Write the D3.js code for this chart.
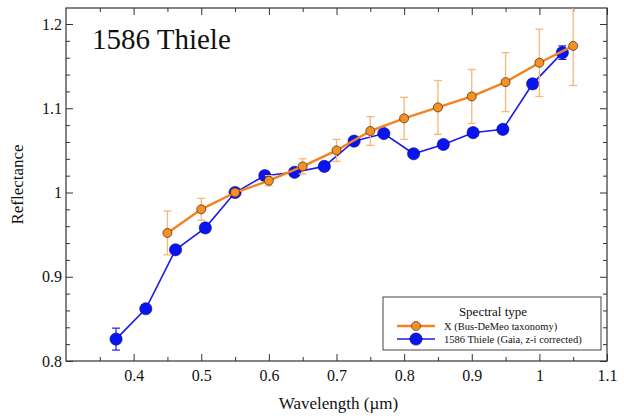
<!DOCTYPE html>
<html>
<head>
<meta charset="utf-8">
<script src="https://cdn.jsdelivr.net/npm/d3@7"></script>
<style>
  body { margin: 0; background: #fff; }
  svg text { font-family: "Liberation Serif", "Times New Roman", "DejaVu Serif", serif; fill: #111; }
</style>
</head>
<body>
<svg id="chart"></svg>
<script>
// Bus-DeMeo X-type template
const taxWave = [0.45, 0.5, 0.55, 0.6, 0.65, 0.7, 0.75, 0.8, 0.85, 0.9, 0.95, 1.0, 1.05];
const taxRefl = [0.952, 0.980, 1.000, 1.014, 1.031, 1.050, 1.073, 1.088, 1.101, 1.114, 1.131, 1.154, 1.174];
const taxErr  = [0.026, 0.013, 0.003, 0.006, 0.009, 0.013, 0.017, 0.025, 0.032, 0.032, 0.035, 0.040, 0.047];

// Gaia DR3 reflectance spectrum of 1586 Thiele
const gaiaWave = [0.374, 0.418, 0.462, 0.506, 0.550, 0.594, 0.638, 0.682, 0.726, 0.770, 0.814, 0.858, 0.902, 0.946, 0.990, 1.034];
const gaiaRefl = [0.826, 0.862, 0.932, 0.958, 1.000, 1.020, 1.024, 1.031, 1.061, 1.070, 1.046, 1.057, 1.071, 1.075, 1.129, 1.166];
const gaiaErr  = [0.013, 0.004, 0.004, 0.003, 0.002, 0.002, 0.002, 0.002, 0.002, 0.002, 0.003, 0.003, 0.003, 0.003, 0.004, 0.008];

const xTicks = [0.4, 0.5, 0.6, 0.7, 0.8, 0.9, 1.0, 1.1];
const yTicks = [0.8, 0.9, 1.0, 1.1, 1.2];
const legendLabels = ["X (Bus-DeMeo taxonomy)", "1586 Thiele (Gaia, z-i corrected)"];

const W = 624, H = 416;
const margin = {top: 8, right: 17, bottom: 55, left: 66};
const width = W - margin.left - margin.right;
const height = H - margin.top - margin.bottom;

const orange = '#f39125', orangeLine = '#f58220', orangeErr = '#f6b77a';
const blue = '#0a14f0', blueLine = '#1b1bea';

const svg = d3.select('#chart').attr('width', W).attr('height', H);
const g = svg.append('g').attr('transform', `translate(${margin.left},${margin.top})`);

const x = d3.scaleLinear().domain([0.3, 1.1]).range([0, width]);
const y = d3.scaleLinear().domain([0.8, 1.219]).range([height, 0]);

const fmt = d => d3.format('')(+d.toFixed(1));
const minorX = d3.range(0.35, 1.1, 0.1).map(v => +v.toFixed(2));
const minorY = d3.range(0.82, 1.22, 0.02).map(v => +v.toFixed(2)).filter(v => !yTicks.some(t => Math.abs(t - v) < 1e-6));

function styleAxis(sel) {
  sel.select('.domain').remove();
  sel.selectAll('line').attr('stroke', '#333').attr('stroke-width', 1);
  sel.selectAll('text').style('font-size', '16px').attr('fill', '#111');
}

// axes with inward ticks on all four sides
g.append('g').attr('transform', `translate(0,${height})`)
  .call(d3.axisBottom(x).tickValues(xTicks).tickSize(-7).tickPadding(9).tickFormat(fmt)).call(styleAxis);
g.append('g').attr('transform', `translate(0,${height})`)
  .call(d3.axisBottom(x).tickValues(minorX).tickSize(-4).tickFormat('')).call(styleAxis);
g.append('g')
  .call(d3.axisTop(x).tickValues(xTicks).tickSize(-7).tickFormat('')).call(styleAxis);
g.append('g')
  .call(d3.axisTop(x).tickValues(minorX).tickSize(-4).tickFormat('')).call(styleAxis);
g.append('g')
  .call(d3.axisLeft(y).tickValues(yTicks).tickSize(-7).tickPadding(4).tickFormat(fmt)).call(styleAxis);
g.append('g')
  .call(d3.axisLeft(y).tickValues(minorY).tickSize(-4).tickFormat('')).call(styleAxis);
g.append('g').attr('transform', `translate(${width},0)`)
  .call(d3.axisRight(y).tickValues(yTicks).tickSize(-7).tickFormat('')).call(styleAxis);
g.append('g').attr('transform', `translate(${width},0)`)
  .call(d3.axisRight(y).tickValues(minorY).tickSize(-4).tickFormat('')).call(styleAxis);

// frame
g.append('rect').attr('width', width).attr('height', height)
  .attr('fill', 'none').attr('stroke', '#333').attr('stroke-width', 1.2);

g.append('clipPath').attr('id', 'clip').append('rect').attr('width', width).attr('height', height);
const plot = g.append('g').attr('clip-path', 'url(#clip)');

function errorBars(wave, refl, err, color, cap, sw) {
  const data = wave.map((w, i) => ({w, v: refl[i], e: err[i]}));
  const eg = plot.append('g').attr('stroke', color).attr('stroke-width', sw).attr('fill', 'none');
  data.forEach(d => {
    const cx = x(d.w), y1 = y(d.v + d.e), y2 = y(d.v - d.e);
    eg.append('line').attr('x1', cx).attr('x2', cx).attr('y1', y1).attr('y2', y2);
    eg.append('line').attr('x1', cx - cap).attr('x2', cx + cap).attr('y1', y1).attr('y2', y1);
    eg.append('line').attr('x1', cx - cap).attr('x2', cx + cap).attr('y1', y2).attr('y2', y2);
  });
}

const line = d3.line().x(d => x(d[0])).y(d => y(d[1]));

// Gaia series
errorBars(gaiaWave, gaiaRefl, gaiaErr, blueLine, 4, 1.2);
plot.append('path').datum(gaiaWave.map((w, i) => [w, gaiaRefl[i]]))
  .attr('d', line).attr('fill', 'none').attr('stroke', blueLine).attr('stroke-width', 1.6);
plot.selectAll('.gaia').data(gaiaWave.map((w, i) => [w, gaiaRefl[i]])).join('circle')
  .attr('class', 'gaia')
  .attr('cx', d => x(d[0])).attr('cy', d => y(d[1])).attr('r', 6.1)
  .attr('fill', blue).attr('stroke', '#00008a').attr('stroke-width', 0.6);

// taxonomy template
errorBars(taxWave, taxRefl, taxErr, orangeErr, 4, 1.3);
plot.append('path').datum(taxWave.map((w, i) => [w, taxRefl[i]]))
  .attr('d', line).attr('fill', 'none').attr('stroke', orangeLine).attr('stroke-width', 2.4);
plot.selectAll('.tax').data(taxWave.map((w, i) => [w, taxRefl[i]])).join('circle')
  .attr('class', 'tax')
  .attr('cx', d => x(d[0])).attr('cy', d => y(d[1])).attr('r', 4.5)
  .attr('fill', orange).attr('stroke', '#5a3410').attr('stroke-width', 0.8);

// title inside plot
svg.append('text').attr('x', 92).attr('y', 49).style('font-size', '29px').text('1586 Thiele');

// axis titles
svg.append('text').attr('x', margin.left + width / 2 + 2).attr('y', 409)
  .attr('text-anchor', 'middle').style('font-size', '17px').text('Wavelength (\u00b5m)');
svg.append('text').attr('transform', `translate(23,${margin.top + height / 2}) rotate(-90)`)
  .attr('text-anchor', 'middle').style('font-size', '17px').text('Reflectance');

// legend
const lg = svg.append('g').attr('transform', 'translate(383,297)');
lg.append('rect').attr('width', 218).attr('height', 53)
  .attr('fill', '#fff').attr('stroke', '#444').attr('stroke-width', 1);
lg.append('text').attr('x', 110).attr('y', 19).attr('text-anchor', 'middle')
  .style('font-size', '13px').text('Spectral type');
const legendItems = [
  {label: legendLabels[0], color: orangeLine, fill: orange, stroke: '#5a3410', r: 4.5, sw: 2.4},
  {label: legendLabels[1], color: blueLine, fill: blue, stroke: '#00008a', r: 6.1, sw: 1.6}
];
legendItems.forEach((d, i) => {
  const ly = 29 + i * 13;
  lg.append('line').attr('x1', 14).attr('x2', 52).attr('y1', ly).attr('y2', ly)
    .attr('stroke', d.color).attr('stroke-width', d.sw);
  lg.append('circle').attr('cx', 33).attr('cy', ly).attr('r', d.r)
    .attr('fill', d.fill).attr('stroke', d.stroke).attr('stroke-width', 0.7);
  lg.append('text').attr('x', 61).attr('y', ly + 3.5).style('font-size', '10.5px').text(d.label);
});
</script>
</body>
</html>
